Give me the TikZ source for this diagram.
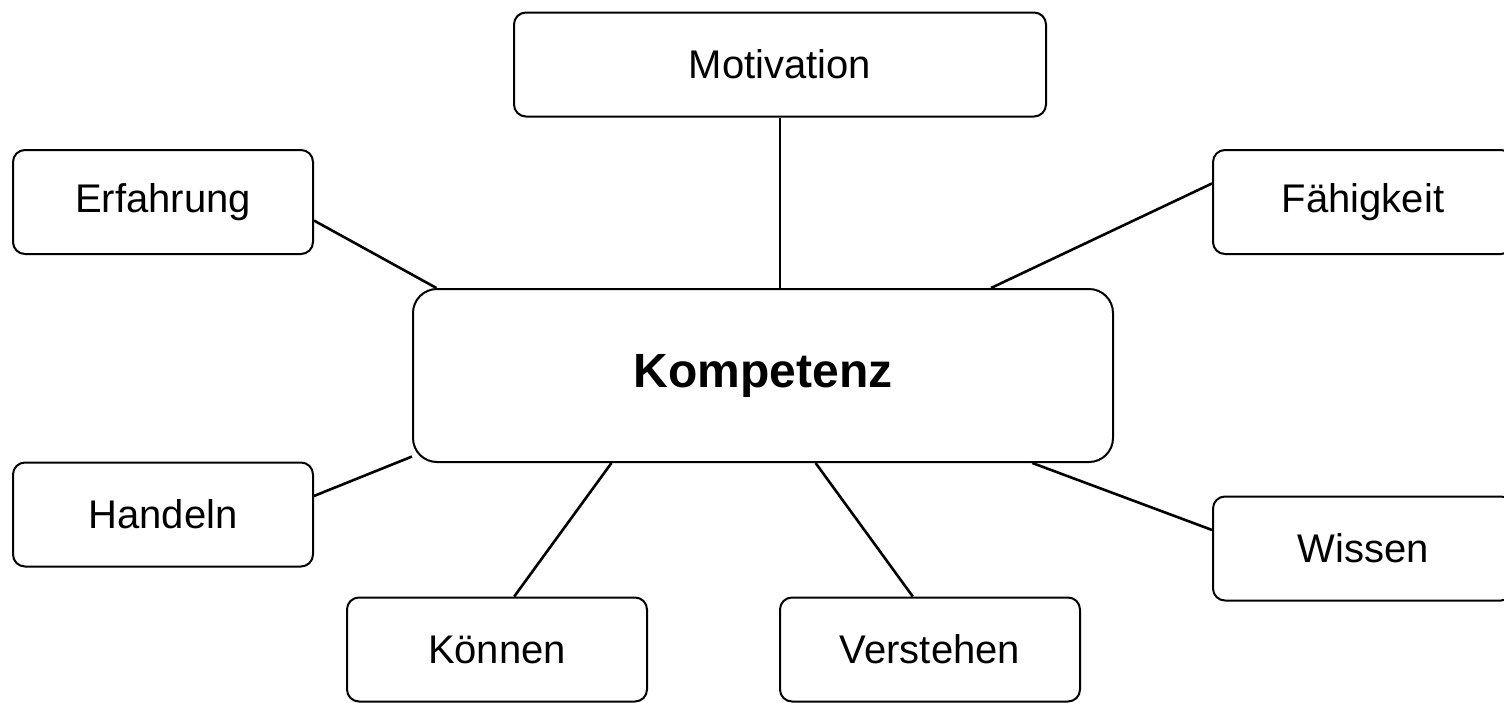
\documentclass[tikz,border=0pt]{standalone}
\usepackage{fontspec}
\setmainfont{Liberation Sans}
\tikzset{
  item node/.style={
    rectangle,
    rounded corners=6pt,
    draw,
    line width=1pt,
    minimum width=150pt,
    minimum height=52pt,
    inner sep=0pt,
    font=\fontsize{20}{24}\selectfont,
  }
}
\tikzset{
  core node/.style={
    item node,
    rounded corners=12pt,
    minimum width=350pt,
    minimum height=86.5pt,
    font=\fontsize{24}{28}\selectfont\bfseries,
  }
}
\begin{document}
\begin{tikzpicture}[
    x=0.5pt,
    y=-0.5pt,
    line width=1.3pt,
    ]

    \useasboundingbox (0,0) rectangle (1504,702);

    \node[core node] (komp) at (763,375.5) {Kompetenz};
    \node[item node, minimum width=266pt] (mot) at (780,64.5) {Motivation};
    \foreach \n/\x/\y/\t in {erf/163/202/Erfahrung,fae/1363/202/Fähigkeit,
      hand/163/514.5/Handeln,wis/1363/548.5/Wissen,
      kon/497/649.5/Können,ver/930/649.5/Verstehen}{
      \node[item node] (\n) at (\x,\y) {\t};
    }

    \draw (mot.south) -- (mot.south |- komp.north);
    \foreach \x/\y in {erf.-7/komp.165,fae.173/komp.21,hand.7/komp.-167,
      wis.173/komp.-18,kon.72/komp.-150,ver.108/komp.-59}{
      \draw (\x) -- (\y);
    }

  \end{tikzpicture}
\end{document}
